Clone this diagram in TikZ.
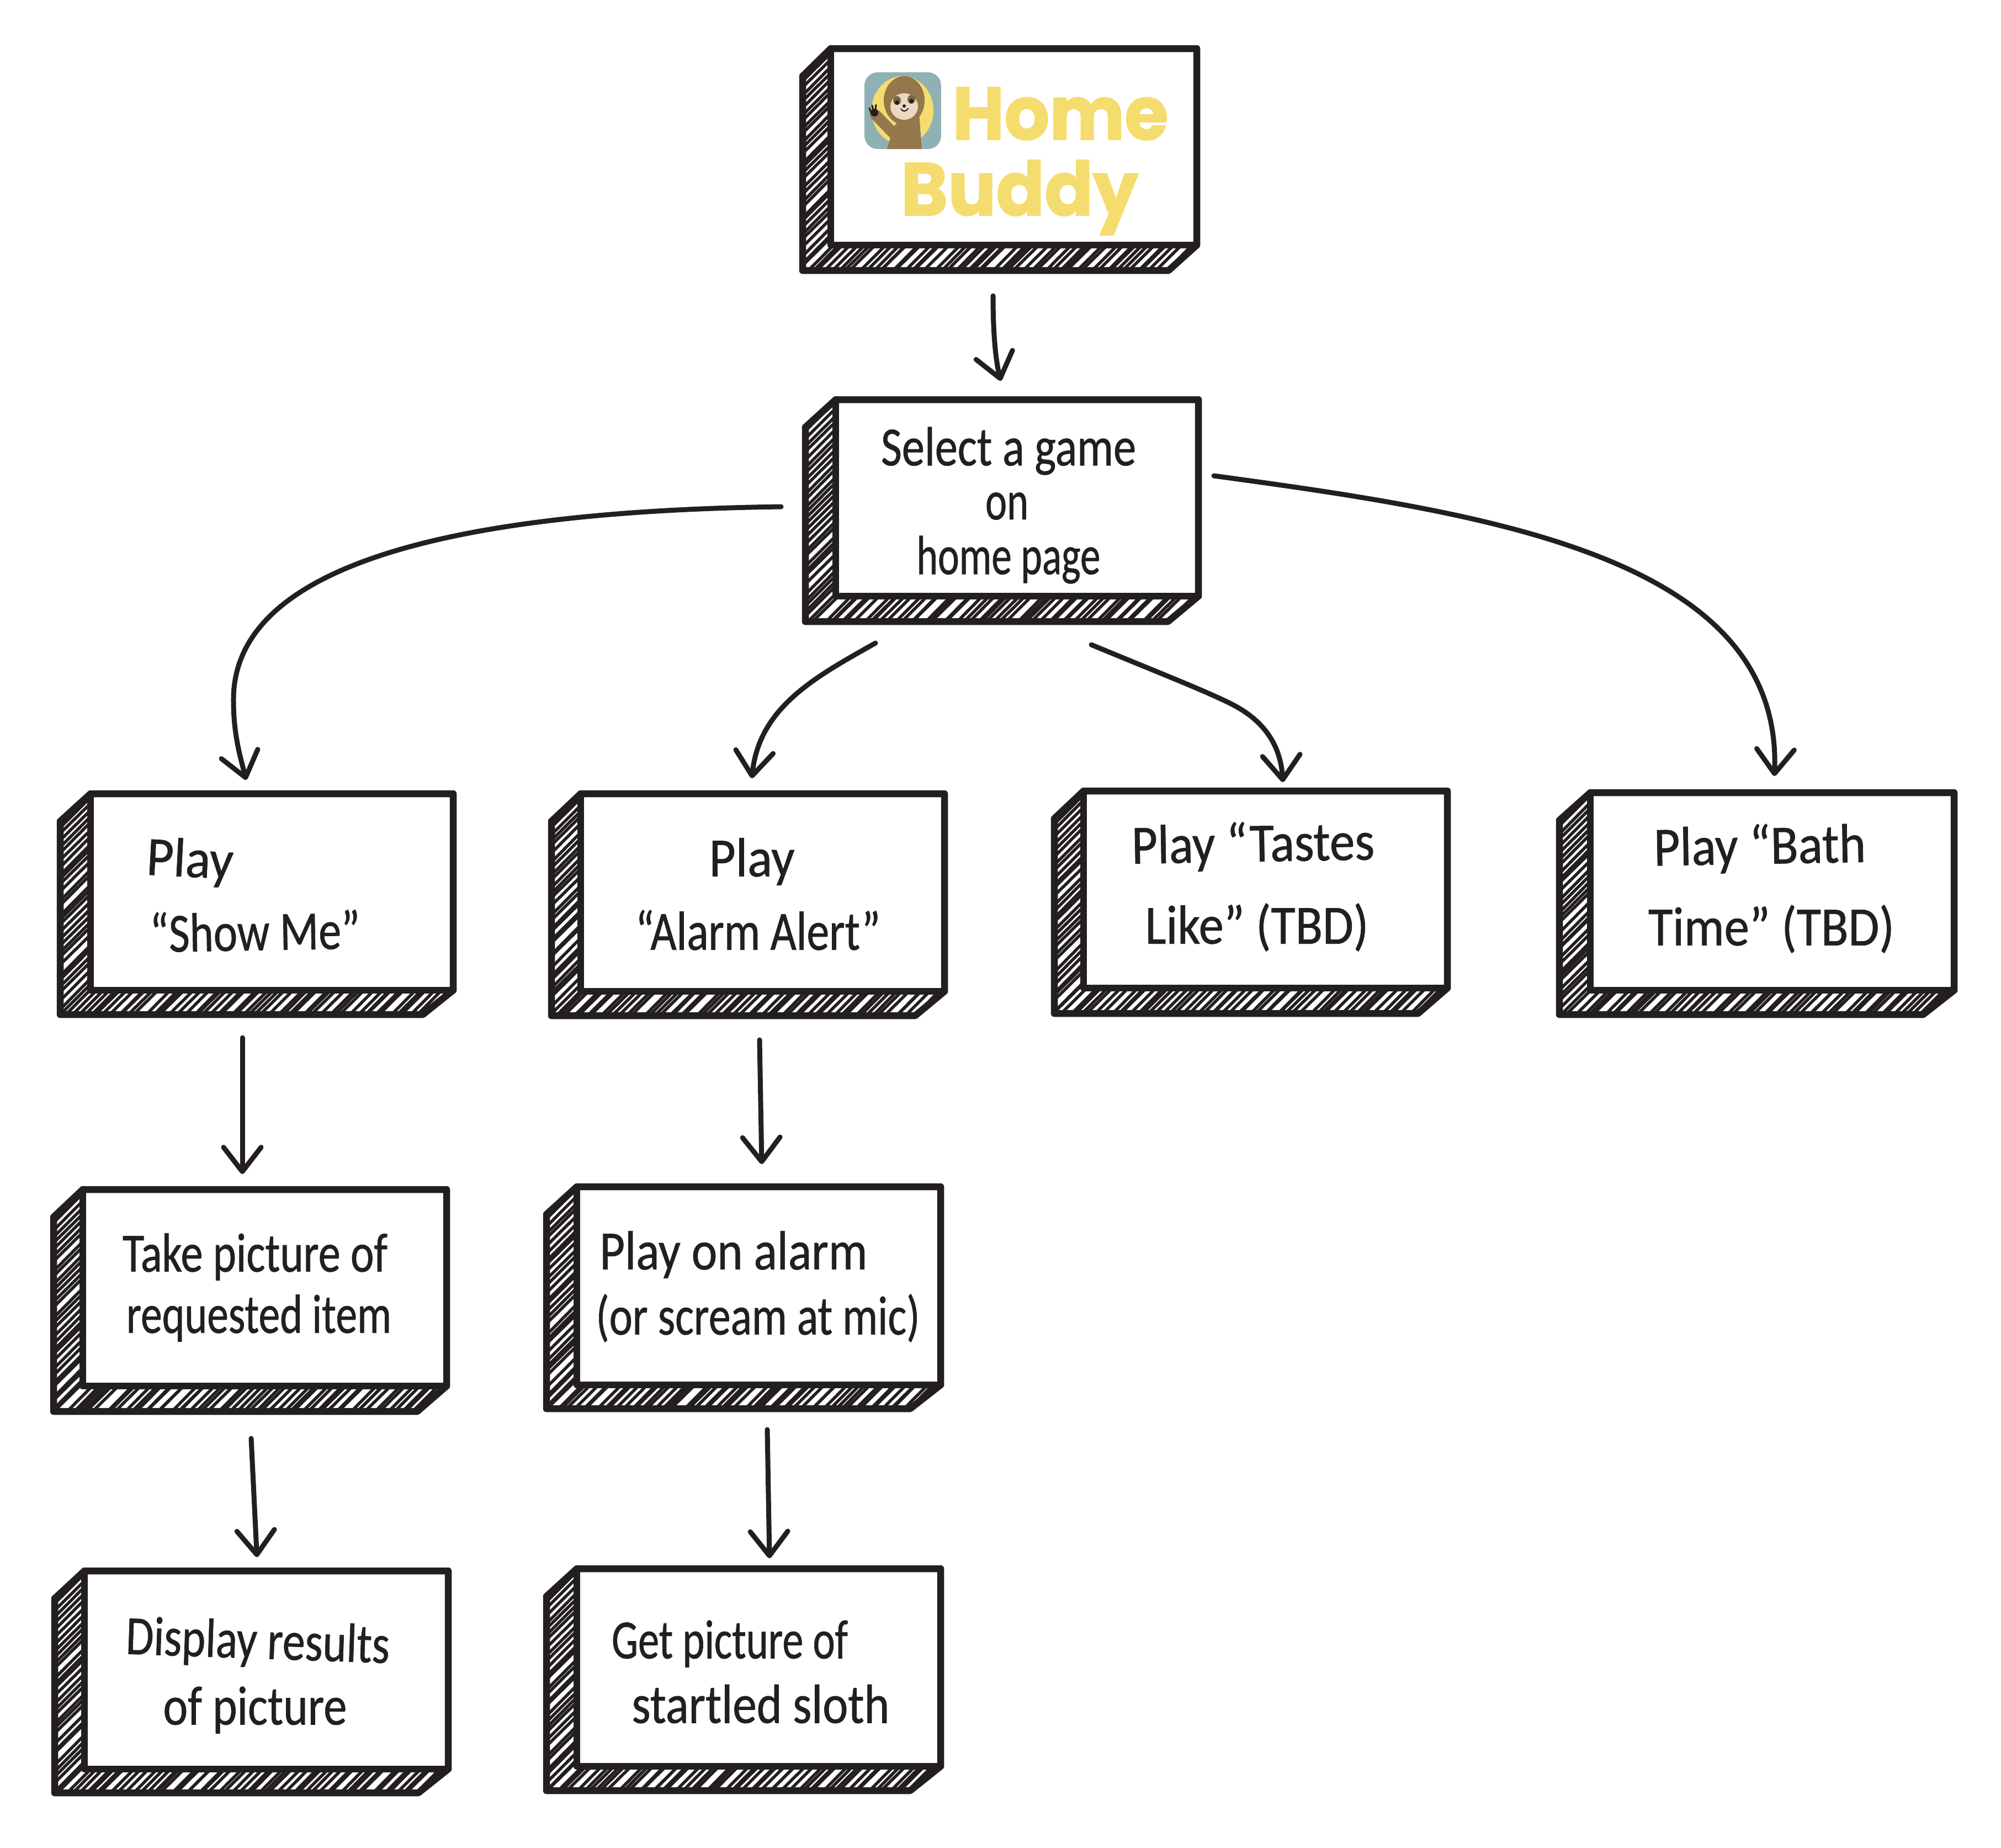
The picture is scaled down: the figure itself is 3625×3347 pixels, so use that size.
\documentclass[tikz,border=0pt]{standalone}
\usepackage{graphicx}
\usepackage{fontspec}
\usetikzlibrary{arrows.meta}
\newfontfamily\handfont[FakeBold=0.8]{Carlito}
\newfontfamily\logofont[BoldFont={Poppins Bold},BoldFeatures={FakeBold=1.6}]{Poppins}
\definecolor{ink}{HTML}{231F20}
\definecolor{logoyellow}{HTML}{F5DC6E}
\definecolor{iconteal}{HTML}{8FB1B4}
\definecolor{slothbrown}{HTML}{94774A}
\definecolor{slothdark}{HTML}{7A6544}
\definecolor{slothcream}{HTML}{E8D9C0}
\tikzset{
  boxedge/.style={draw=ink,line width=12.5pt,line join=round,line cap=round},
  hatchline/.style={draw=ink,line width=5.5pt,line cap=round},
  boxanchor/.style={inner sep=0pt,outer sep=0pt},
  handtext/.style={inner sep=0pt,text=ink,font=\handfont\fontsize{100}{104}\selectfont},
  logotext/.style={inner sep=0pt,text=logoyellow,font=\logofont\bfseries\fontsize{135}{140}\selectfont},
  link/.style={draw=ink,line width=9pt,line cap=round,-{Straight Barb[length=44pt,width=68pt,line width=9pt,round]}},
}
% name, front left, front top, front right, front bottom, back left, back bottom
\newcommand{\skbox}[7]{%
  \fill[white] (#6,{#3+50}) -- (#2,#3) -- (#4,#3) -- (#4,#5) -- ({#4-(#2-#6)},#7) -- (#6,#7) -- cycle;
  \begin{scope}
    \clip (#6,{#3+50}) -- (#2,#3) -- (#4,#3) -- (#4,#5) -- ({#4-(#2-#6)},#7) -- (#6,#7) -- cycle;
    \pgfmathtruncatemacro\hn{(#4+#7-#6-#3)/12}
    \foreach \i in {0,...,\hn}{
      \pgfmathsetmacro\ua{#6+#3+12*\i+rnd*5-2.5}
      \pgfmathsetmacro\ub{\ua+rnd*14-7}
      \draw[hatchline] ({\ua-#3},#3) -- ({\ub-#7},#7);
    }
  \end{scope}
  \fill[white] (#2,#3) rectangle (#4,#5);
  \draw[boxedge] (#6,{#3+50}) -- (#2,#3) -- (#4,#3) -- (#4,#5) -- ({#4-(#2-#6)},#7) -- (#6,#7) -- cycle;
  \draw[boxedge] (#4,#5) -- (#2,#5) -- (#2,#3);
  \node[boxanchor,minimum width={#4-#6},minimum height={#7-#3}] (#1) at ({(#6+#4)/2},{(#3+#7)/2}) {};
}
% name, position, width, text, rotation
\newcommand{\hw}[5]{\node[handtext,rotate=#5] (#1) at (#2) {\resizebox{#3pt}{\height}{#4}};}
\begin{document}
\begin{tikzpicture}[x=1pt,y=-1pt]
\pgfmathsetseed{4242}
\useasboundingbox (0,0) rectangle (3625,3347);
\fill[white] (0,0) rectangle (3625,3347);

\skbox{home}{1505}{88}{2168}{444}{1454}{490}
\skbox{sel}{1514}{724}{2171}{1080}{1459}{1126}
\skbox{show}{164}{1438}{821}{1794}{109}{1838}
\skbox{alarm}{1052}{1438}{1711}{1796}{999}{1840}
\skbox{tastes}{1963}{1433}{2622}{1790}{1910}{1836}
\skbox{bath}{2881}{1436}{3540}{1794}{2825}{1838}
\skbox{take}{150}{2155}{809}{2511}{97}{2557}
\skbox{playon}{1045}{2150}{1704}{2509}{990}{2552}
\skbox{display}{153}{2846}{812}{3205}{99}{3248}
\skbox{getpic}{1045}{2842}{1704}{3200}{990}{3244}

% logo icon
\begin{scope}
  \clip[rounded corners=24pt] (1566,131) rectangle (1705,270);
  \fill[iconteal] (1566,131) rectangle (1705,270);
  \fill[logoyellow] (1635,200) ellipse [x radius=56,y radius=62];
  \fill[slothbrown] (1606,272) -- (1620,228) -- (1642,205) -- (1665,205) -- (1670,272) -- cycle;
  \draw[slothbrown,line width=20pt,line cap=round] (1622,245) -- (1586,208);
  \fill[slothbrown] (1638,182) ellipse [x radius=37,y radius=44];
  \fill[slothcream] (1638,193) ellipse [x radius=25,y radius=24];
  \fill[slothdark] (1625,182) ellipse [x radius=7,y radius=8];
  \fill[slothdark] (1651,180) ellipse [x radius=7,y radius=8];
  \fill[ink] (1625,186) circle [radius=4];
  \fill[ink] (1651,183) circle [radius=4];
  \fill[ink] (1638,192) circle [radius=3];
  \draw[ink,line width=2pt] (1632,197) .. controls (1635,203) and (1642,203) .. (1645,196);
  \fill[ink] (1584,204) circle [radius=7];
  \draw[ink,line width=3pt,line cap=round] (1578,204) -- (1575,196);
  \draw[ink,line width=3pt,line cap=round] (1582,200) -- (1580,191);
  \draw[ink,line width=3pt,line cap=round] (1586,198) -- (1587,190);
\end{scope}

\node[logotext] (logohome) at (1921,206) {\resizebox{391pt}{\height}{Home}};
\node[logotext] (logobuddy) at (1847,358) {\resizebox{430pt}{\height}{Buddy}};

\hw{sela}{1827,817}{462}{Select a game}{0}
\hw{selb}{1824,917}{78}{on}{0}
\hw{selc}{1827,1014}{333}{home page}{0}
\hw{showa}{344,1562}{157}{Play}{-3}
\hw{showb}{462,1686}{381}{“Show Me”}{1}
\hw{alarma}{1362,1561}{155}{Play}{0}
\hw{alarmb}{1373,1685}{444}{“Alarm Alert”}{0}
\hw{tastesa}{2270,1533}{440}{Play “Tastes}{1}
\hw{tastesb}{2277,1680}{405}{Like” (TBD)}{0}
\hw{batha}{3188,1537}{384}{Play “Bath}{1}
\hw{bathb}{3209,1683}{446}{Time” (TBD)}{0}
\hw{takea}{462,2277}{480}{Take picture of}{0}
\hw{takeb}{469,2388}{480}{requested item}{0}
\hw{playona}{1329,2273}{485}{Play on alarm}{0}
\hw{playonb}{1373,2388}{587}{(or scream at mic)}{0}
\hw{displaya}{467,2978}{478}{Display results}{-2}
\hw{displayb}{462,3098}{333}{of picture}{0}
\hw{geta}{1322,2978}{428}{Get picture of}{0}
\hw{getb}{1378,3087}{467}{startled sloth}{0}

\draw[link] ([shift={(-12,46)}]home.south) .. controls (1799,600) and (1803,650) .. ([shift={(-2,-34)}]sel.north);
\draw[link] ([shift={(-44,-7)}]sel.west) .. controls (900,925) and (420,1000) .. (423,1270) .. controls (423,1330) and (435,1370) .. ([shift={(-19,-25)}]show.north);
\draw[link] ([shift={(-229,39)}]sel.south) .. controls (1480,1225) and (1375,1280) .. ([shift={(7,-28)}]alarm.north);
\draw[link] ([shift={(162,42)}]sel.south) .. controls (2090,1215) and (2180,1250) .. (2230,1275) .. controls (2290,1305) and (2320,1350) .. ([shift={(58,-16)}]tastes.north);
\draw[link] ([shift={(28,-63)}]sel.east) .. controls (2700,930) and (3230,1010) .. ([shift={(32,-30)}]bath.north);
\draw[link] ([shift={(-26,42)}]show.south) -- ([shift={(-14,-28)}]take.north);
\draw[link] ([shift={(21,44)}]alarm.south) -- ([shift={(33,-41)}]playon.north);
\draw[link] ([shift={(2,49)}]take.south) -- ([shift={(10,-25)}]display.north);
\draw[link] ([shift={(43,38)}]playon.south) -- ([shift={(47,-19)}]getpic.north);
\end{tikzpicture}
\end{document}
